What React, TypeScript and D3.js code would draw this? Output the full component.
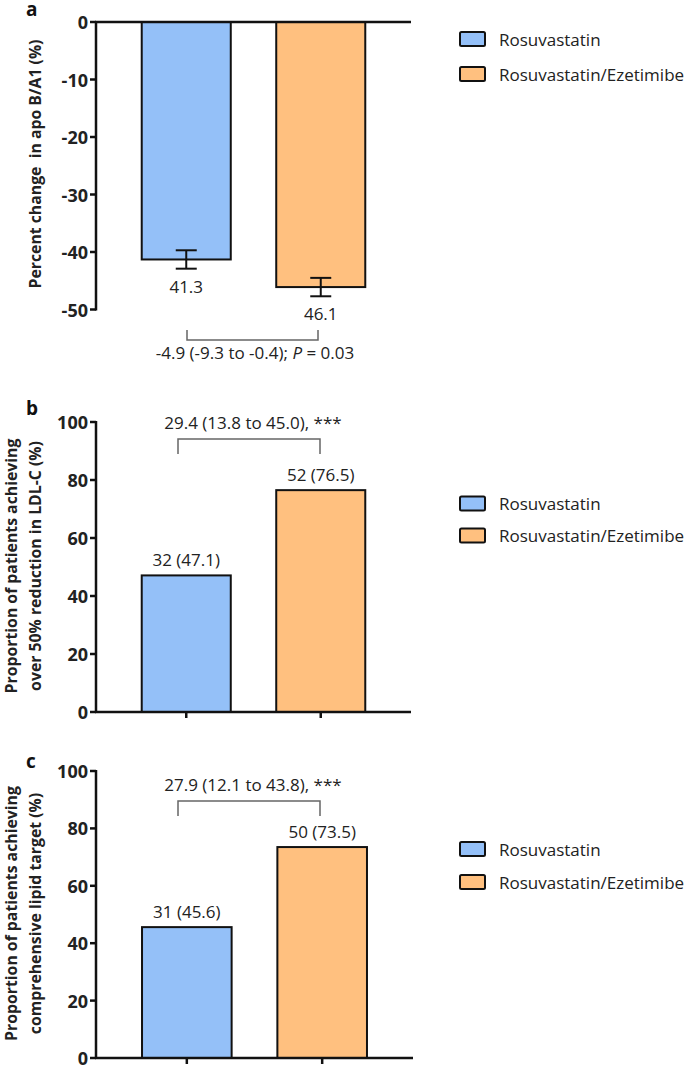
import React from "react";
import * as d3 from "d3";

const categories = ["Rosuvastatin", "Rosuvastatin/Ezetimibe"];
const colors = ["#94C0F8", "#FFC07F"];

// Panel a
const apoValues = [-41.3, -46.1];
const apoErrors = [1.6, 1.6];
const apoLabels = ["41.3", "46.1"];
const apoTicks = [0, -10, -20, -30, -40, -50];
const apoCompare = ["-4.9 (-9.3 to -0.4); ", "P", " = 0.03"];

// Panel b
const ldlValues = [47.1, 76.5];
const ldlLabels = ["32 (47.1)", "52 (76.5)"];
const ldlCompare = "29.4 (13.8 to 45.0), ***";

// Panel c
const lipidValues = [45.6, 73.5];
const lipidLabels = ["31 (45.6)", "50 (73.5)"];
const lipidCompare = "27.9 (12.1 to 43.8), ***";

const propTicks = [0, 20, 40, 60, 80, 100];

const FONT = "'Open Sans', Lato, sans-serif";
const TXT = "#222";
const FS = 17;
const TICK_FS = 18;
const YLAB_FS = 15.8;

function Legend({ y0, gap }: { y0: number; gap: number }) {
  return (
    <g>
      {categories.map((c, i) => (
        <g key={c} transform={`translate(0,${y0 + i * gap})`}>
          <rect x={460} y={-7} width={25} height={14} rx={1.5} fill={colors[i]} stroke="#111" strokeWidth={2} />
          <text x={499} y={0} dominantBaseline="central" fontSize={FS} fontFamily={FONT} fill={TXT}>
            {c}
          </text>
        </g>
      ))}
    </g>
  );
}

function YAxis({ y, ticks }: { y: d3.ScaleLinear<number, number>; ticks: number[] }) {
  const [r0, r1] = y.range();
  return (
    <g>
      <line x1={96} x2={96} y1={Math.min(r0, r1) - 1} y2={Math.max(r0, r1) + 1} stroke="#111" strokeWidth={2.5} />
      {ticks.map((t) => (
        <g key={t}>
          <line x1={90} x2={96} y1={y(t)} y2={y(t)} stroke="#111" strokeWidth={2.5} />
          <text x={88} y={y(t)} textAnchor="end" dominantBaseline="central" fontSize={TICK_FS} fontWeight="bold" fontFamily={FONT} fill={TXT}>
            {t}
          </text>
        </g>
      ))}
    </g>
  );
}

function PropPanel({
  values, labels, compare, top, bottom, xEnd, letter, letterY, ylab, legendY, legendGap, bracketY, bracketX,
}: {
  values: number[]; labels: string[]; compare: string; top: number; bottom: number; xEnd: number;
  letter: string; letterY: number; ylab: string[]; legendY: number; legendGap: number; bracketY: number; bracketX: [number, number];
}) {
  const x = d3.scaleBand<string>().domain(categories).range([96, xEnd]).paddingInner(0.338).paddingOuter(0.34);
  const y = d3.scaleLinear().domain([0, 100]).range([bottom, top]);
  const midY = (top + bottom) / 2 - 1;
  return (
    <g>
      <text x={26} y={letterY} fontSize={19} fontWeight="bold" fontFamily={FONT} fill="#111">{letter}</text>
      {ylab.map((l, i) => (
        <text key={i} transform={`translate(${11 + i * 24},${midY}) rotate(-90)`} textAnchor="middle" dominantBaseline="central"
          fontSize={YLAB_FS} fontWeight="bold" fontFamily={FONT} fill={TXT}>{l}</text>
      ))}
      {values.map((v, i) => (
        <g key={i}>
          <rect x={x(categories[i])!} y={y(v)} width={x.bandwidth()} height={y(0) - y(v)} fill={colors[i]} stroke="#111" strokeWidth={2} />
          <text x={x(categories[i])! + x.bandwidth() / 2} y={y(v) - 9} textAnchor="middle" fontSize={FS} fontFamily={FONT} fill={TXT}>{labels[i]}</text>
        </g>
      ))}
      <YAxis y={y} ticks={propTicks} />
      <line x1={95} x2={xEnd} y1={y(0)} y2={y(0)} stroke="#111" strokeWidth={2.5} />
      {categories.map((c) => (
        <line key={c} x1={x(c)! + x.bandwidth() / 2} x2={x(c)! + x.bandwidth() / 2} y1={y(0)} y2={y(0) + 6} stroke="#111" strokeWidth={2.5} />
      ))}
      <path d={`M${bracketX[0]},${bracketY + 15}V${bracketY}H${bracketX[1]}V${bracketY + 15}`} fill="none" stroke="#666" strokeWidth={1.5} />
      <text x={(bracketX[0] + bracketX[1]) / 2 + 4} y={bracketY - 10} textAnchor="middle" fontSize={FS} fontFamily={FONT} fill={TXT}>{compare}</text>
      <Legend y0={legendY} gap={legendGap} />
    </g>
  );
}

function PanelA() {
  const x = d3.scaleBand<string>().domain(categories).range([96, 411]).paddingInner(0.338).paddingOuter(0.34);
  const y = d3.scaleLinear().domain([-50, 0]).range([309.5, 22]);
  return (
    <g>
      <text x={26} y={16} fontSize={19} fontWeight="bold" fontFamily={FONT} fill="#111">a</text>
      <text transform={`translate(35,164) rotate(-90)`} textAnchor="middle" dominantBaseline="central"
        fontSize={YLAB_FS} fontWeight="bold" fontFamily={FONT} fill={TXT} style={{ whiteSpace: "pre" }}>
        Percent change  in apo B/A1 (%)
      </text>
      {apoValues.map((v, i) => {
        const cx = x(categories[i])! + x.bandwidth() / 2;
        return (
          <g key={i}>
            <rect x={x(categories[i])!} y={y(0)} width={x.bandwidth()} height={y(v) - y(0)} fill={colors[i]} stroke="#111" strokeWidth={2} />
            <line x1={cx} x2={cx} y1={y(v + apoErrors[i])} y2={y(v - apoErrors[i])} stroke="#111" strokeWidth={2} />
            <line x1={cx - 10.5} x2={cx + 10.5} y1={y(v + apoErrors[i])} y2={y(v + apoErrors[i])} stroke="#111" strokeWidth={2} />
            <line x1={cx - 10.5} x2={cx + 10.5} y1={y(v - apoErrors[i])} y2={y(v - apoErrors[i])} stroke="#111" strokeWidth={2} />
            <text x={cx} y={y(v - apoErrors[i]) + 24} textAnchor="middle" fontSize={FS} fontFamily={FONT} fill={TXT}>{apoLabels[i]}</text>
          </g>
        );
      })}
      <YAxis y={y} ticks={apoTicks} />
      <line x1={95} x2={411} y1={y(0)} y2={y(0)} stroke="#111" strokeWidth={2.5} />
      <path d="M187,330V340H318V330" fill="none" stroke="#666" strokeWidth={1.5} />
      <text x={255} y={359} textAnchor="middle" fontSize={FS} fontFamily={FONT} fill={TXT}>
        {apoCompare[0]}
        <tspan fontStyle="italic">{apoCompare[1]}</tspan>
        {apoCompare[2]}
      </text>
      <Legend y0={39} gap={35} />
    </g>
  );
}

export default function App() {
  return (
    <svg width={685} height={1067} style={{ position: "absolute", left: 0, top: 0, background: "#fff" }}>
      <rect width={685} height={1067} fill="#fff" />
      <PanelA />
      <PropPanel values={ldlValues} labels={ldlLabels} compare={ldlCompare} top={422} bottom={712} xEnd={411}
        letter="b" letterY={415} ylab={["Proportion of patients achieving", "over 50% reduction in LDL-C (%)"]}
        legendY={503.5} legendGap={32} bracketY={439} bracketX={[178, 320]} />
      <PropPanel values={lipidValues} labels={lipidLabels} compare={lipidCompare} top={771} bottom={1058} xEnd={413}
        letter="c" letterY={768} ylab={["Proportion of patients achieving", "comprehensive lipid target (%)"]}
        legendY={849} legendGap={33} bracketY={801} bracketX={[178, 320]} />
    </svg>
  );
}
